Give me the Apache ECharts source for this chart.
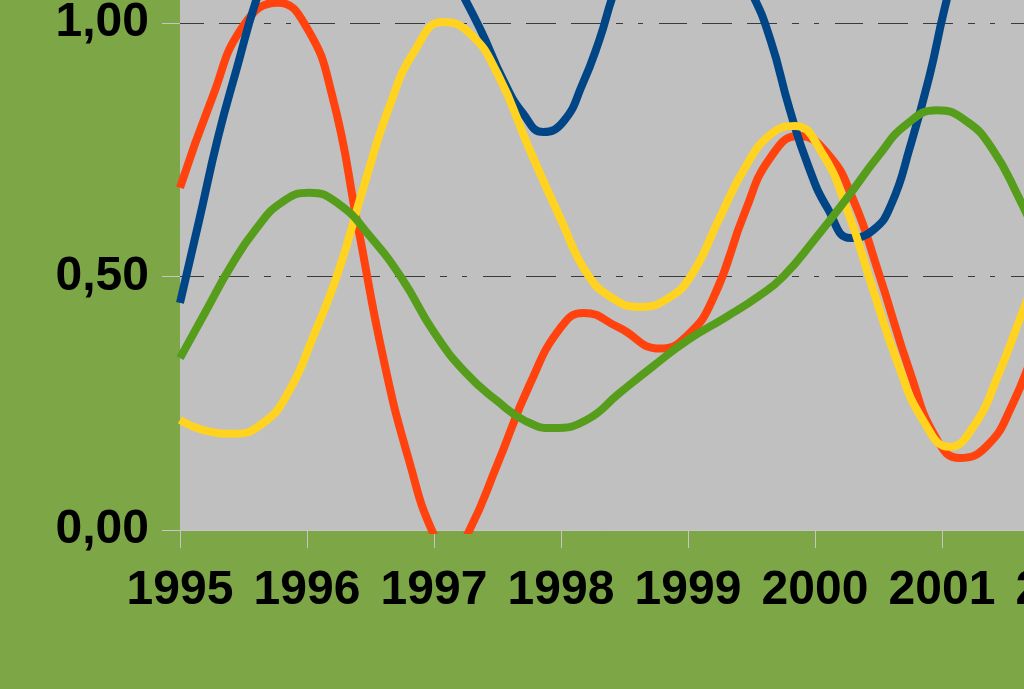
<!DOCTYPE html>
<html>
<head>
<meta charset="utf-8">
<script src="https://cdn.jsdelivr.net/npm/echarts@6.0.0/dist/echarts.min.js"></script>
<style>
html,body{margin:0;padding:0;background:#7da647;}
#chart{width:1024px;height:689px;}
</style>
</head>
<body>
<div id="chart"></div>
<script>
// Tick labels
const years = [1995, 1996, 1997, 1998, 1999, 2000, 2001, 2002, 2003];
const yTickValues = [0, 0.5, 1.0, 1.5];
const yTickLabels = ['0,00', '0,50', '1,00', '1,50'];

// Series values: [year, value]
const redSeries = [
  [1995.00, 0.675], [1995.25, 0.850], [1995.50, 0.995], [1995.77, 1.040], [1996.00, 0.990],
  [1996.20, 0.855], [1996.40, 0.600], [1996.60, 0.340], [1996.80, 0.140], [1997.00, -0.010],
  [1997.14, -0.050], [1997.28, 0.000], [1997.50, 0.130], [1997.75, 0.285], [1998.00, 0.400],
  [1998.18, 0.428], [1998.45, 0.400], [1998.78, 0.358], [1999.00, 0.385], [1999.20, 0.458],
  [1999.45, 0.628], [1999.65, 0.735], [1999.87, 0.777], [2000.10, 0.742], [2000.30, 0.652],
  [2000.50, 0.508], [2000.75, 0.310], [2000.95, 0.183], [2001.14, 0.142], [2001.35, 0.165],
  [2001.55, 0.245], [2001.75, 0.375]
];
const blueSeries = [
  [1995.00, 0.448], [1995.15, 0.610], [1995.30, 0.775], [1995.45, 0.913], [1995.60, 1.045],
  [1995.85, 1.220], [1996.20, 1.340], [1996.55, 1.330], [1996.90, 1.200], [1997.15, 1.090],
  [1997.36, 0.990], [1997.55, 0.885], [1997.70, 0.822], [1997.86, 0.785], [1998.02, 0.806],
  [1998.17, 0.880], [1998.30, 0.965], [1998.45, 1.080], [1998.70, 1.200], [1998.95, 1.240],
  [1999.25, 1.170], [1999.50, 1.060], [1999.65, 0.966], [1999.80, 0.830], [1999.95, 0.716],
  [2000.10, 0.634], [2000.28, 0.576], [2000.46, 0.592], [2000.60, 0.642], [2000.75, 0.757],
  [2000.90, 0.894], [2001.02, 1.028], [2001.20, 1.200], [2001.45, 1.380], [2001.75, 1.550]
];
const yellowSeries = [
  [1995.00, 0.217], [1995.20, 0.196], [1995.42, 0.190], [1995.65, 0.210], [1995.85, 0.270],
  [1996.05, 0.382], [1996.25, 0.512], [1996.45, 0.680], [1996.65, 0.836], [1996.85, 0.946],
  [1997.07, 1.002], [1997.28, 0.980], [1997.50, 0.900], [1997.75, 0.752], [1998.00, 0.612],
  [1998.20, 0.508], [1998.40, 0.458], [1998.62, 0.440], [1998.83, 0.455], [1999.02, 0.500],
  [1999.25, 0.616], [1999.45, 0.715], [1999.65, 0.780], [1999.84, 0.797], [2000.05, 0.746],
  [2000.25, 0.634], [2000.45, 0.480], [2000.65, 0.330], [2000.85, 0.217], [2001.06, 0.164],
  [2001.25, 0.205], [2001.45, 0.310], [2001.65, 0.440], [2001.85, 0.560]
];
const greenSeries = [
  [1995.00, 0.339], [1995.20, 0.430], [1995.40, 0.520], [1995.60, 0.594], [1995.80, 0.646],
  [1996.02, 0.665], [1996.25, 0.643], [1996.50, 0.578], [1996.75, 0.495], [1997.00, 0.390],
  [1997.25, 0.310], [1997.50, 0.254], [1997.72, 0.215], [1997.94, 0.201], [1998.20, 0.217],
  [1998.46, 0.270], [1998.72, 0.322], [1999.00, 0.375], [1999.30, 0.420], [1999.55, 0.460],
  [1999.75, 0.500], [2000.00, 0.574], [2000.25, 0.654], [2000.50, 0.738], [2000.72, 0.800],
  [2000.96, 0.828], [2001.20, 0.805], [2001.40, 0.750], [2001.60, 0.658], [2001.80, 0.550]
];

const seriesNames = ['Red', 'Blue', 'Yellow', 'Green'];
const seriesData = [redSeries, blueSeries, yellowSeries, greenSeries];
const seriesColors = ['#ff420e', '#004586', '#ffd320', '#579d1c'];

const chart = echarts.init(document.getElementById('chart'), null, {renderer: 'canvas'});
const labelFont = {
  color: '#000000',
  fontFamily: '"Liberation Sans", Arial, sans-serif',
  fontWeight: 'bold',
  fontSize: 48
};
chart.setOption({
  animation: false,
  backgroundColor: '#7da647',
  grid: {
    left: 180,
    top: 530 - 1.5 * 507,
    width: 8 * 127,
    height: 1.5 * 507,
    show: true,
    backgroundColor: '#c0c0c0',
    borderWidth: 0,
    containLabel: false,
    outerBoundsMode: 'none'
  },
  xAxis: {
    type: 'value',
    min: years[0],
    max: years[years.length - 1],
    interval: 1,
    z: 1,
    axisLine: {show: true, onZero: false, lineStyle: {color: '#c6c6c6', width: 1}},
    axisTick: {show: true, length: 18, lineStyle: {color: '#c6c6c6', width: 1}},
    splitLine: {show: false},
    axisLabel: Object.assign({
      margin: 37,
      hideOverlap: false,
      showMinLabel: true,
      showMaxLabel: true,
      formatter: function (v) { return String(years[Math.round(v - years[0])]); }
    }, labelFont)
  },
  yAxis: {
    type: 'value',
    min: yTickValues[0],
    max: yTickValues[yTickValues.length - 1],
    interval: 0.5,
    axisLine: {show: false},
    axisTick: {show: true, length: 18, lineStyle: {color: '#c6c6c6', width: 1}},
    splitLine: {
      show: true,
      lineStyle: {
        color: '#3a3a3a',
        width: 1,
        type: [28, 15, 30, 15, 30, 15, 7, 15, 5, 16],
        dashOffset: 49
      }
    },
    axisLabel: Object.assign({
      margin: 31,
      hideOverlap: false,
      formatter: function (v) {
        const i = yTickValues.findIndex(t => Math.abs(t - v) < 1e-6);
        return i >= 0 ? yTickLabels[i] : '';
      }
    }, labelFont)
  },
  series: seriesData.map((d, i) => ({
    name: seriesNames[i],
    type: 'line',
    data: d,
    smooth: 0.5,
    showSymbol: false,
    symbol: 'none',
    clip: true,
    lineStyle: {color: seriesColors[i], width: 8},
    itemStyle: {color: seriesColors[i]},
    z: 2 + i
  }))
});
</script>
</body>
</html>
